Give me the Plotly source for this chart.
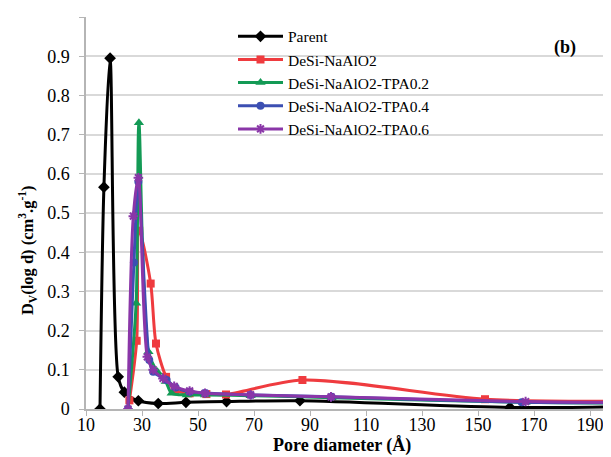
import plotly.graph_objects as go

# Pore diameter (Å) and D_V(log d) values
parent_x = [15.0, 16.4, 18.6, 21.5, 23.7, 28.7, 35.8, 45.7, 60.2, 86.4, 161.4, 200.0]
parent_y = [0.0, 0.566, 0.895, 0.082, 0.043, 0.021, 0.014, 0.017, 0.019, 0.021, 0.004, 0.006]

red_x = [25.5, 28.1, 29.0, 33.1, 35.0, 38.6, 41.8, 47.0, 53.0, 60.0, 87.3, 152.5, 200.0]
red_y = [0.022, 0.174, 0.455, 0.32, 0.167, 0.082, 0.048, 0.04, 0.038, 0.037, 0.074, 0.025, 0.02]

green_x = [25.0, 27.9, 28.9, 32.3, 35.5, 38.5, 40.6, 46.0, 52.5, 68.8, 97.7, 167.0, 200.0]
green_y = [0.0, 0.27, 0.73, 0.146, 0.095, 0.07, 0.04, 0.036, 0.036, 0.034, 0.029, 0.017, 0.015]

blue_x = [25.0, 27.1, 28.7, 32.6, 34.0, 38.8, 42.0, 47.0, 52.5, 68.8, 97.7, 165.6, 200.0]
blue_y = [0.0, 0.374, 0.58, 0.125, 0.095, 0.074, 0.055, 0.044, 0.041, 0.036, 0.031, 0.017, 0.016]

purple_x = [25.0, 26.9, 28.7, 31.9, 34.0, 37.5, 41.5, 47.0, 52.5, 68.8, 97.5, 167.0, 200.0]
purple_y = [0.0, 0.492, 0.59, 0.133, 0.1, 0.078, 0.058, 0.046, 0.04, 0.036, 0.031, 0.019, 0.017]

x_ticks = [10, 30, 50, 70, 90, 110, 130, 150, 170, 190]
y_ticks = [0, 0.1, 0.2, 0.3, 0.4, 0.5, 0.6, 0.7, 0.8, 0.9, 1.0]
y_tick_text = ["0", "0.1", "0.2", "0.3", "0.4", "0.5", "0.6", "0.7", "0.8", "0.9", "1"]

FONT = "Liberation Serif"

series = [
    ("Parent", parent_x, parent_y, "#000000", "diamond", 9),
    ("DeSi-NaAlO2", red_x, red_y, "#ef3b3f", "square", 8),
    ("DeSi-NaAlO2-TPA0.2", green_x, green_y, "#139a55", "triangle-up", 9),
    ("DeSi-NaAlO2-TPA0.4", blue_x, blue_y, "#3c4fb2", "circle", 8),
    ("DeSi-NaAlO2-TPA0.6", purple_x, purple_y, "#8a36a8", "asterisk-open", 8),
]

fig = go.Figure()
for name, xs, ys, col, sym, sz in series:
    if sym == "asterisk-open":
        marker = dict(symbol=sym, size=sz, color=col, line=dict(color=col, width=2))
    else:
        marker = dict(symbol=sym, size=sz, color=col, line=dict(width=0))
    fig.add_trace(go.Scatter(
        x=xs, y=ys, name=name, mode="lines+markers",
        line=dict(color=col, width=3, shape="spline", smoothing=0.8),
        marker=marker,
    ))

fig.update_layout(
    width=603, height=449,
    margin=dict(l=78, r=0, t=9, b=48),
    paper_bgcolor="white", plot_bgcolor="white",
    font=dict(family=FONT, size=18, color="black"),
    showlegend=True,
    legend=dict(
        x=0.28, y=0.993, xanchor="left", yanchor="top",
        bgcolor="rgba(0,0,0,0)", itemwidth=45,
        font=dict(family=FONT, size=15.5, color="black"),
        tracegroupgap=0,
    ),
    xaxis=dict(
        range=[10, 197.5], tickmode="array", tickvals=x_ticks,
        showgrid=False, zeroline=False,
        showline=True, linecolor="#b5b5b5", linewidth=1.5,
        ticks="outside", ticklen=5, tickcolor="#b5b5b5",
        tickfont=dict(family=FONT, size=18), ticklabelstandoff=-6,
    ),
    yaxis=dict(
        range=[0, 1.0], tickmode="array", tickvals=y_ticks, ticktext=y_tick_text,
        showgrid=True, gridcolor="#d9d9d9", gridwidth=1.5, zeroline=False,
        showline=True, linecolor="#b5b5b5", linewidth=1.5,
        ticks="outside", ticklen=5, tickcolor="#b5b5b5",
        tickfont=dict(family=FONT, size=18), ticklabelstandoff=6,
    ),
    annotations=[
        dict(text="<b>Pore diameter (Å)</b>", xref="paper", yref="paper",
             x=0.488, y=-0.092, xanchor="center", yanchor="middle", showarrow=False,
             font=dict(family=FONT, size=18)),
        dict(text="<b>D<sub>V</sub>(log d) (cm<sup>3</sup>.g<sup>-1</sup>)</b>",
             xref="paper", yref="paper", x=-0.112, y=0.406, xanchor="center",
             yanchor="middle", textangle=-90, showarrow=False,
             font=dict(family=FONT, size=16.5)),
        dict(text="<b>(b)</b>", xref="paper", yref="paper", x=0.912, y=0.923,
             xanchor="center", yanchor="middle", showarrow=False,
             font=dict(family=FONT, size=18)),
    ],
)

fig.write_html("out.html")
